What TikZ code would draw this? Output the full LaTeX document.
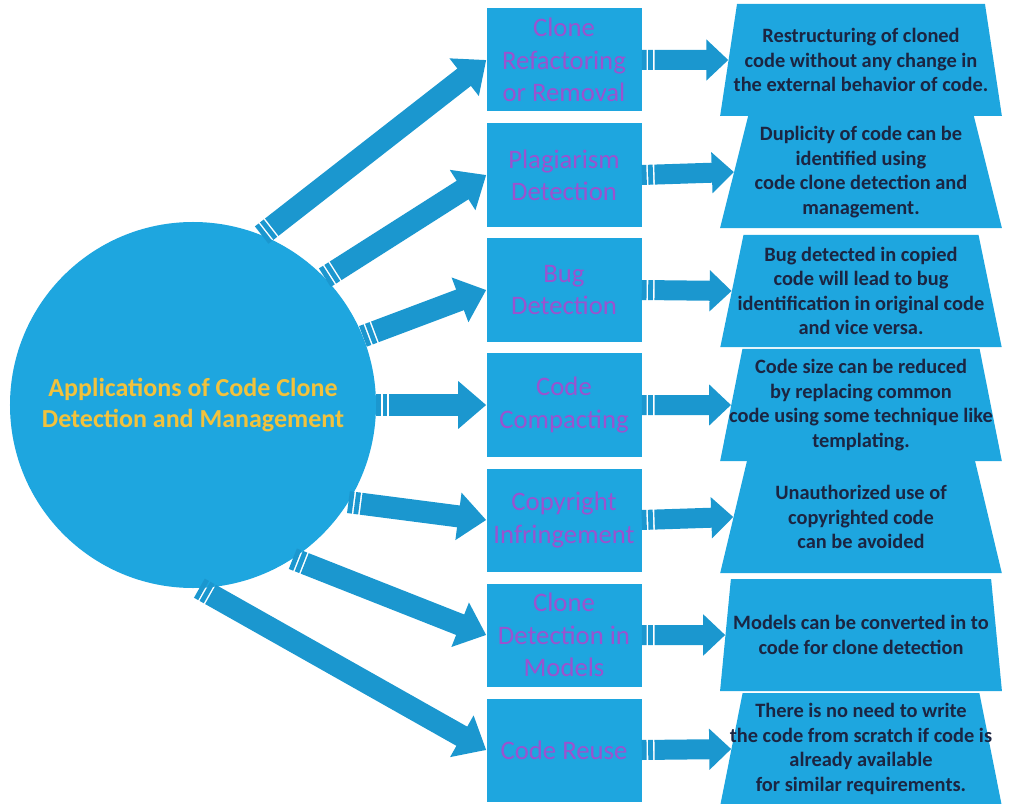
\documentclass[tikz,border=0pt]{standalone}
\usepackage{fontspec}
\setmainfont{Carlito}
\usepackage{tikz}
\usetikzlibrary{arrows.meta,positioning,shapes.geometric}
\definecolor{Sky}{HTML}{1EA6DF}
\definecolor{ArrowBlue}{HTML}{1B97CF}
\definecolor{Violet}{HTML}{9B52CF}
\definecolor{Gold}{HTML}{F2C23C}
\definecolor{Navy}{HTML}{1B2542}

\begin{document}
\begin{tikzpicture}[x=0.25mm,y=-0.25mm,
  hub/.style={circle,fill=Sky,minimum size=91.5mm,inner sep=0pt,align=center,
    text=Gold,font=\fontsize{18.5}{22.5}\selectfont\bfseries},
  usebox/.style={rectangle,fill=Sky,minimum width=38.75mm,minimum height=25.75mm,
    align=center,text=Violet,font=\fontsize{19}{23}\selectfont},
  trap/.style={trapezium,trapezium stretches=true,trapezium angle=78,fill=Sky,
    minimum width=70.5mm,minimum height=28mm,inner xsep=-7mm,inner ysep=0pt,
    align=center,text=Navy,font=\fontsize{14.5}{17.5}\selectfont\bfseries},
  spoke/.style={ArrowBlue,line width=5.5mm,-{Triangle[length=7mm,width=11.5mm]},
    dash pattern=on 1.2mm off 0.4mm on 1.2mm off 0.4mm on 100cm off 1mm},
  link/.style={ArrowBlue,line width=5mm,-{Triangle[length=5.5mm,width=10mm]},
    dash pattern=on 1.2mm off 0.4mm on 1.2mm off 0.4mm on 100cm off 1mm}]
\useasboundingbox (0,0) rectangle (1013,804);

% centre
\node[hub] (hub) at (193,405) {Applications of Code Clone\\Detection and Management};

% applications
\node[usebox] (b1) at (564,60) {Clone\\Refactoring\\or Removal};
\node[usebox] (b2) at (564,175) {Plagiarism\\Detection};
\node[usebox] (b3) at (564,290) {Bug\\Detection};
\node[usebox] (b4) at (564,405) {Code\\Compacting};
\node[usebox] (b5) at (564,520) {Copyright\\Infringement};
\node[usebox] (b6) at (564,635) {Clone\\Detection in\\Models};
\node[usebox] (b7) at (564,750) {Code Reuse};

% descriptions
\node[trap] (t1) at (861,60) {Restructuring of cloned\\code without any change in\\the external behavior of code.};
\node[trap] (t2) at (861,172) {Duplicity of code can be\\identified using\\code clone detection and\\management.};
\node[trap] (t3) at (861,291) {Bug detected in copied\\code will lead to bug\\identification in original code\\and vice versa.};
\node[trap] (t4) at (861,405) {Code size can be reduced\\by replacing common\\code using some technique like\\templating.};
\node[trap] (t5) at (861,517) {Unauthorized use of\\copyrighted code\\can be avoided};
\node[trap] (t6) at (861,635) {Models can be converted in to\\code for clone detection};
\node[trap] (t7) at (861,749) {There is no need to write\\the code from scratch if code is\\already available\\for similar requirements.};

% arrows
\draw[spoke] (hub.68) -- (b1.west);
\draw[spoke] (hub.44) -- (b2.west);
\draw[spoke] (hub.22) -- (b3.west);
\draw[spoke] (hub.0) -- (b4.west);
\draw[spoke] (hub.-32) -- (b5.west);
\draw[spoke] (hub.-57) -- (b6.west);
\draw[spoke] (hub.-88) -- (b7.west);
\draw[link] (b1.east) -- (t1.west);
\draw[link] (b2.east) -- (t2.west);
\draw[link] (b3.east) -- (t3.west);
\draw[link] (b4.east) -- (t4.west);
\draw[link] (b5.east) -- (t5.west);
\draw[link] (b6.east) -- (t6.west);
\draw[link] (b7.east) -- (t7.west);
\end{tikzpicture}
\end{document}
